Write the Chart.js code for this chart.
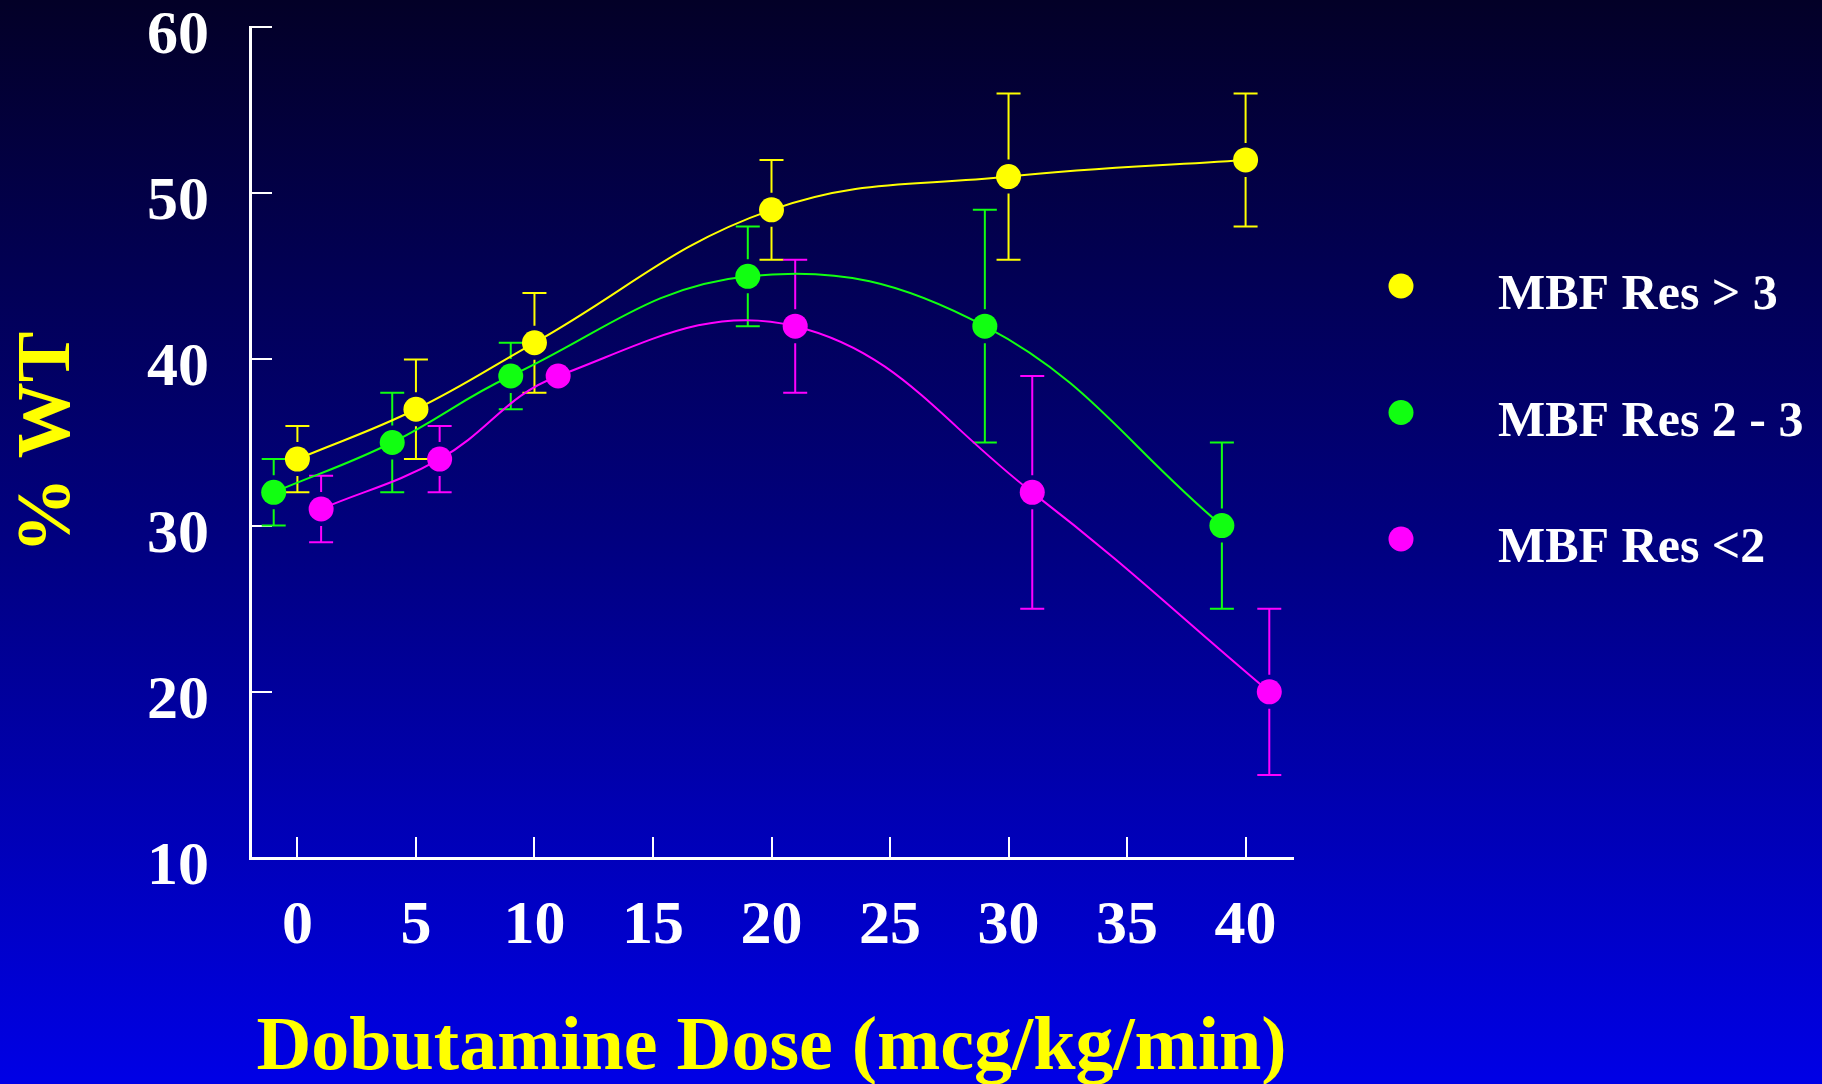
<!DOCTYPE html>
<html>
<head>
<meta charset="utf-8">
<title>% WT vs Dobutamine Dose</title>
<script src="https://cdn.jsdelivr.net/npm/chart.js@4.4.1/dist/chart.umd.min.js"></script>
<style>
  html, body { margin: 0; padding: 0; background: #02002a; }
  canvas { display: block; }
</style>
</head>
<body>
<canvas id="chart" width="1822" height="1084"></canvas>
<script>
// Axis ticks
const doseTicks = [0, 5, 10, 15, 20, 25, 30, 35, 40];
const wtTicks = [10, 20, 30, 40, 50, 60];

// Series labels
const seriesLabels = ['MBF Res > 3', 'MBF Res 2 - 3', 'MBF Res <2'];

// Dose positions (groups staggered by 1 so the error bars stay apart)
const doseHigh = [0, 5, 10, 20, 30, 40];
const doseMid  = [-1, 4, 9, 19, 29, 39];
const doseLow  = [1, 6, 11, 21, 31, 41];

// Mean % wall thickening
const wtHigh = [34, 37, 41, 49, 51, 52];
const wtMid  = [32, 35, 39, 45, 42, 30];
const wtLow  = [31, 34, 39, 42, 32, 20];

// Error bar half-lengths (0 = bar hidden behind the marker)
const errHigh = [2, 3, 3, 3, 5, 4];
const errMid  = [2, 3, 2, 3, 7, 5];
const errLow  = [2, 2, 0, 4, 7, 5];

const colors = ['#ffff00', '#11ff11', '#ff00ff'];

const serif = 'Liberation Serif, Times New Roman, serif';

function points(xs, ys) {
  return xs.map((x, i) => ({ x: x, y: ys[i] }));
}

function makeSeries(idx, xs, ys, errs) {
  return {
    label: seriesLabels[idx],
    data: points(xs, ys),
    errors: errs,
    borderColor: colors[idx],
    backgroundColor: colors[idx],
    borderWidth: 2,
    pointRadius: 12.5,
    pointHoverRadius: 12.5,
    pointBorderWidth: 0,
    pointBackgroundColor: colors[idx],
    tension: 0.4,
    fill: false
  };
}

// Slide background: dark navy at the top fading to bright blue
const backgroundPlugin = {
  id: 'slideBackground',
  beforeDraw(chart) {
    const ctx = chart.ctx;
    const g = ctx.createLinearGradient(0, 0, 0, chart.height);
    g.addColorStop(0, '#030027');
    g.addColorStop(0.5, '#010080');
    g.addColorStop(1, '#0000e6');
    ctx.save();
    ctx.fillStyle = g;
    ctx.fillRect(0, 0, chart.width, chart.height);
    ctx.restore();
  }
};

// Vertical error bars with caps, leaving a small gap around each marker
const errorBarPlugin = {
  id: 'errorBars',
  beforeDatasetsDraw(chart) {
    const ctx = chart.ctx;
    const yScale = chart.scales.y;
    const gap = 17;
    const capHalf = 12;
    chart.data.datasets.forEach((ds, di) => {
      const meta = chart.getDatasetMeta(di);
      ctx.save();
      ctx.strokeStyle = ds.borderColor;
      ctx.lineWidth = 2;
      meta.data.forEach((pt, i) => {
        const e = ds.errors[i];
        if (!e) return;
        const v = ds.data[i].y;
        const x = pt.x;
        const yc = pt.y;
        const yTop = yScale.getPixelForValue(v + e);
        const yBot = yScale.getPixelForValue(v - e);
        ctx.beginPath();
        if (yc - yTop > gap) { ctx.moveTo(x, yTop); ctx.lineTo(x, yc - gap); }
        if (yBot - yc > gap) { ctx.moveTo(x, yc + gap); ctx.lineTo(x, yBot); }
        ctx.moveTo(x - capHalf, yTop); ctx.lineTo(x + capHalf, yTop);
        ctx.moveTo(x - capHalf, yBot); ctx.lineTo(x + capHalf, yBot);
        ctx.stroke();
      });
      ctx.restore();
    });
  }
};

// Legend to the right of the plot: dot, then label
const legendPlugin = {
  id: 'sideLegend',
  afterDraw(chart) {
    const ctx = chart.ctx;
    const dotX = 1401, textX = 1498, firstY = 286, step = 126.5;
    ctx.save();
    ctx.font = 'bold 50px ' + serif;
    ctx.textAlign = 'left';
    ctx.textBaseline = 'alphabetic';
    chart.data.datasets.forEach((ds, i) => {
      const y = firstY + i * step;
      ctx.fillStyle = ds.backgroundColor;
      ctx.beginPath();
      ctx.arc(dotX, y, 12.5, 0, Math.PI * 2);
      ctx.fill();
      ctx.fillStyle = '#ffffff';
      ctx.fillText(ds.label, textX, y + 23);
    });
    ctx.restore();
  }
};

const tickFont = { family: serif, weight: 'bold', size: 62 };

new Chart(document.getElementById('chart'), {
  type: 'line',
  data: {
    datasets: [
      makeSeries(0, doseHigh, wtHigh, errHigh),
      makeSeries(1, doseMid, wtMid, errMid),
      makeSeries(2, doseLow, wtLow, errLow)
    ]
  },
  options: {
    responsive: false,
    devicePixelRatio: 1,
    animation: false,
    events: [],
    layout: { padding: { top: 27, right: 529, bottom: 0, left: 0 } },
    plugins: {
      legend: { display: false },
      tooltip: { enabled: false },
      title: { display: false }
    },
    scales: {
      x: {
        type: 'linear',
        position: 'bottom',
        min: -2,
        max: 42,
        afterBuildTicks(scale) { scale.ticks = doseTicks.map(v => ({ value: v })); },
        afterFit(scale) { scale.height = 226; scale.paddingLeft = 0; scale.paddingRight = 0; },
        border: { display: true, color: '#ffffff', width: 3 },
        grid: { drawOnChartArea: false, drawTicks: true, tickLength: -21, color: '#ffffff', lineWidth: 2 },
        ticks: { color: '#ffffff', font: tickFont, padding: 53, maxRotation: 0, autoSkip: false },
        title: {
          display: true, text: 'Dobutamine Dose (mcg/kg/min)', color: '#ffff00',
          font: { family: serif, weight: 'bold', size: 76, lineHeight: 0.92 }, padding: 0
        }
      },
      y: {
        type: 'linear',
        position: 'left',
        min: 10,
        max: 60,
        afterBuildTicks(scale) { scale.ticks = wtTicks.map(v => ({ value: v })); },
        afterFit(scale) { scale.width = 250; scale.paddingTop = 0; scale.paddingBottom = 0; },
        border: { display: true, color: '#ffffff', width: 3 },
        grid: { drawOnChartArea: false, drawTicks: true, tickLength: -22, color: '#ffffff', lineWidth: 2 },
        ticks: { color: '#ffffff', font: tickFont, padding: 63, labelOffset: 10 },
        title: {
          display: true, text: '% WT', color: '#ffff00',
          font: { family: serif, weight: 'bold', size: 76, lineHeight: 1.1 }, padding: { top: 8, bottom: 0 }
        }
      }
    }
  },
  plugins: [backgroundPlugin, errorBarPlugin, legendPlugin]
});
</script>
</body>
</html>
